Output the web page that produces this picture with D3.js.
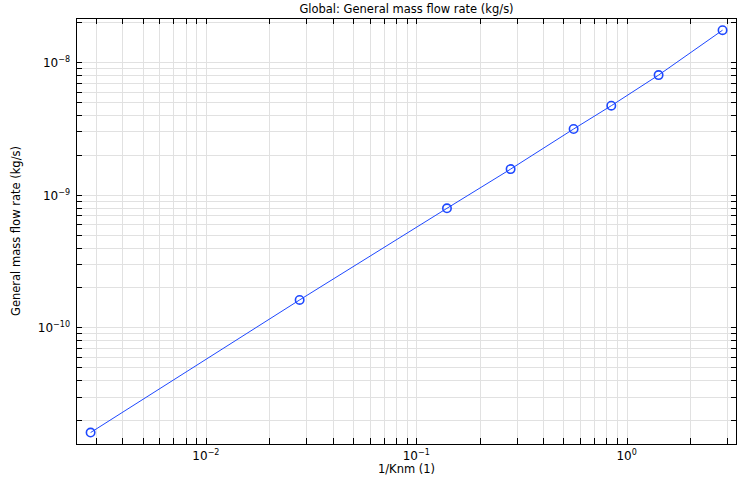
<!DOCTYPE html>
<html>
<head>
<meta charset="utf-8">
<script src="https://cdn.jsdelivr.net/npm/d3@7"></script>
<style>
  body { margin: 0; background: #fff; }
  text { font-family: "DejaVu Sans", sans-serif; fill: #000; }
</style>
</head>
<body>
<div class="canvas"></div>
<script>
// Data
const invKnm = [0.00283, 0.0279, 0.140, 0.281, 0.56, 0.846, 1.42, 2.86];
const massFlow = [1.61e-11, 1.61e-10, 7.9e-10, 1.56e-9, 3.13e-9, 4.69e-9, 7.98e-9, 1.74e-8];
const xDecades = [-2, -1, 0];
const yDecades = [-10, -9, -8];

const width = 740, height = 478;
const margin = {top: 18, right: 3, bottom: 34, left: 76};
const graphWidth = width - margin.left - margin.right;
const graphHeight = height - margin.top - margin.bottom;

const svg = d3.select('.canvas')
    .append('svg')
        .attr('width', width)
        .attr('height', height);

const graph = svg.append('g')
    .attr('transform', `translate(${margin.left}, ${margin.top})`);

const x = d3.scaleLog()
    .domain([0.002412, 3.35])
    .range([0, graphWidth]);

const y = d3.scaleLog()
    .domain([1.32e-11, 2.15e-8])
    .range([graphHeight, 0]);

// every 1..9 x 10^k tick inside the domain
const logTicks = (scale) => {
    const [a, b] = scale.domain();
    const out = [];
    for (let e = Math.floor(Math.log10(a)); e <= Math.ceil(Math.log10(b)); e++) {
        for (let m = 1; m < 10; m++) {
            const v = m * Math.pow(10, e);
            if (v >= a && v <= b) out.push(v);
        }
    }
    return out;
};
const xTicks = logTicks(x);
const yTicks = logTicks(y);
const px = v => Math.round(x(v)) + 0.5;
const py = v => Math.round(y(v)) + 0.5;

// Grid
graph.append('g').selectAll('line')
    .data(xTicks)
    .enter().append('line')
        .attr('x1', px).attr('x2', px)
        .attr('y1', 0).attr('y2', graphHeight)
        .attr('stroke', '#e1e1e1');

graph.append('g').selectAll('line')
    .data(yTicks)
    .enter().append('line')
        .attr('y1', py).attr('y2', py)
        .attr('x1', 0).attr('x2', graphWidth)
        .attr('stroke', '#e1e1e1');

// Inward ticks on all four sides
const tickLen = 6;
const tickG = graph.append('g').attr('stroke', '#000');
xTicks.forEach(v => {
    tickG.append('line').attr('x1', px(v)).attr('x2', px(v)).attr('y1', graphHeight).attr('y2', graphHeight - tickLen);
    tickG.append('line').attr('x1', px(v)).attr('x2', px(v)).attr('y1', 0).attr('y2', tickLen);
});
yTicks.forEach(v => {
    tickG.append('line').attr('y1', py(v)).attr('y2', py(v)).attr('x1', 0).attr('x2', tickLen);
    tickG.append('line').attr('y1', py(v)).attr('y2', py(v)).attr('x1', graphWidth).attr('x2', graphWidth - tickLen);
});

// Frame
graph.append('rect')
    .attr('x', 0.5).attr('y', 0.5)
    .attr('width', graphWidth - 1).attr('height', graphHeight)
    .attr('fill', 'none')
    .attr('stroke', '#000');

// Tick labels
const xLab = svg.append('g').selectAll('text')
    .data(xDecades)
    .enter().append('text')
        .attr('x', d => margin.left + x(Math.pow(10, d)))
        .attr('y', margin.top + graphHeight + 16)
        .attr('text-anchor', 'middle')
        .style('font-size', '12px');
xLab.append('tspan').text('10');
xLab.append('tspan').attr('dy', -5).style('font-size', '8px').text(d => d === 0 ? '0' : '\u2212' + Math.abs(d));

const yLab = svg.append('g').selectAll('text')
    .data(yDecades)
    .enter().append('text')
        .attr('x', margin.left - 6)
        .attr('y', d => margin.top + y(Math.pow(10, d)) + 5)
        .attr('text-anchor', 'end')
        .style('font-size', '12px');
yLab.append('tspan').text('10');
yLab.append('tspan').attr('dy', -5).style('font-size', '8px').text(d => '\u2212' + Math.abs(d));

// Series
const pts = invKnm.map((v, i) => [v, massFlow[i]]);
graph.append('path')
    .datum(pts)
    .attr('fill', 'none')
    .attr('stroke', '#1e48ff')
    .attr('stroke-width', 1)
    .attr('d', d3.line().x(d => x(d[0])).y(d => y(d[1])));

graph.selectAll('circle')
    .data(pts)
    .enter().append('circle')
        .attr('cx', d => x(d[0]))
        .attr('cy', d => y(d[1]))
        .attr('r', 4.2)
        .attr('fill', 'none')
        .attr('stroke', '#1e48ff')
        .attr('stroke-width', 1.6);

// Titles
svg.append('text')
    .attr('x', margin.left + graphWidth / 2)
    .attr('y', 13)
    .attr('text-anchor', 'middle')
    .style('font-size', '11.5px')
    .text('Global: General mass flow rate (kg/s)');

svg.append('text')
    .attr('x', margin.left + graphWidth / 2)
    .attr('y', 473)
    .attr('text-anchor', 'middle')
    .style('font-size', '11.5px')
    .text('1/Knm (1)');

svg.append('text')
    .attr('transform', `translate(20, ${margin.top + graphHeight / 2}) rotate(-90)`)
    .attr('text-anchor', 'middle')
    .style('font-size', '11.5px')
    .text('General mass flow rate (kg/s)');
</script>
</body>
</html>
